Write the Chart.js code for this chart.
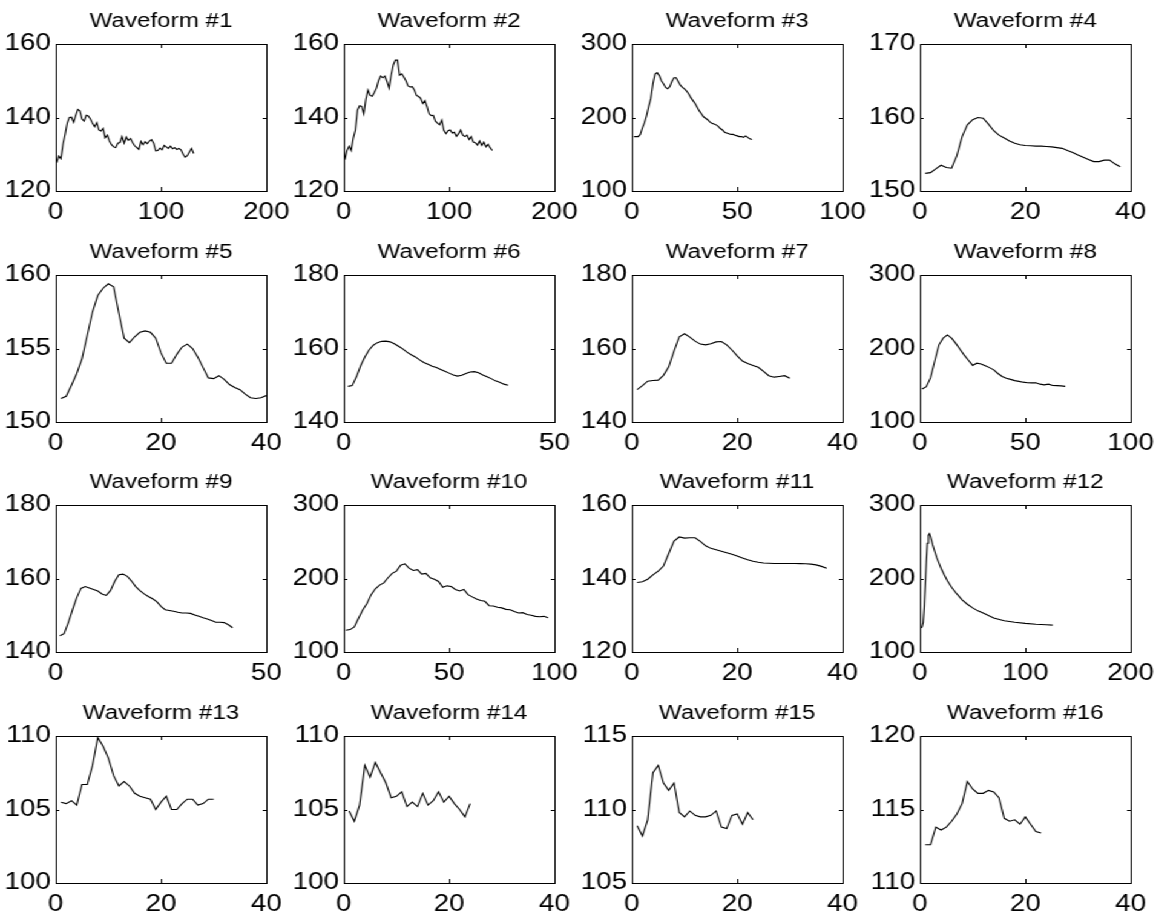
<!DOCTYPE html>
<html lang="en">
<head>
<meta charset="UTF-8" />
<title>Waveforms</title>
<style>
  body { margin: 0; background: #fff; overflow: hidden; }
  /* the original figure is stretched sideways, so the whole grid is too */
  #fig { position: relative; width: 955px; height: 913px; transform: scaleX(1.2105); transform-origin: 0 0; }
  .cell { position: absolute; width: 264px; height: 230px; }
</style>
</head>
<body>
<div id="fig"></div>

<script src="https://cdn.jsdelivr.net/npm/chart.js"></script>
<script>
// axis settings, one entry per subplot
const titles = ["Waveform #1", "Waveform #2", "Waveform #3", "Waveform #4",
                "Waveform #5", "Waveform #6", "Waveform #7", "Waveform #8",
                "Waveform #9", "Waveform #10", "Waveform #11", "Waveform #12",
                "Waveform #13", "Waveform #14", "Waveform #15", "Waveform #16"];
const xMax  = [200, 200, 100, 40,  40, 50, 40, 100,  50, 100, 40, 200,  40, 40, 40, 40];
const xStep = [100, 100, 50, 20,   20, 50, 20, 50,   50, 50, 20, 100,   20, 20, 20, 20];
const yMin  = [120, 120, 100, 150, 150, 140, 140, 100, 140, 100, 120, 100, 100, 100, 105, 110];
const yMax  = [160, 160, 300, 170, 160, 180, 180, 300, 180, 300, 160, 300, 110, 110, 115, 120];
const yStep = [20, 20, 100, 10,    5, 20, 20, 100,   20, 100, 20, 100,   5, 5, 5, 5];

// sample spacing of each record (first sample at x = 1)
const sampleStep = [2, 2, 1, 1,  1, 1, 1, 2,  1, 2, 1, 1,  1, 1, 1, 1];

const wave1 = [127.7, 129.5, 128.8, 132.8, 135.5, 138.5, 140.0, 140.1, 138.7, 140.5, 142.2, 141.8,
  139.6, 139.0, 140.6, 140.4, 139.6, 138.4, 137.5, 138.6, 136.6, 136.3, 137.0, 134.5, 135.2, 133.6,
  132.6, 132.0, 131.8, 133.0, 133.2, 134.8, 133.0, 134.7, 133.8, 134.3, 133.2, 132.3, 131.8, 131.3,
  133.5, 132.6, 133.4, 132.9, 133.6, 134.0, 133.0, 130.9, 131.0, 131.7, 131.2, 132.4, 132.0, 131.6,
  132.2, 131.5, 131.8, 131.3, 131.6, 131.2, 130.0, 129.2, 129.6, 130.6, 131.6, 130.2];
const wave2 = [128.5, 131.0, 132.2, 131.0, 134.4, 136.5, 142.0, 143.2, 143.0, 141.0, 145.0, 147.5,
  146.0, 145.8, 146.8, 148.0, 150.0, 151.3, 150.8, 151.3, 149.8, 148.0, 151.5, 154.3, 155.6, 155.6,
  151.5, 151.9, 151.0, 150.0, 148.6, 148.3, 148.4, 147.5, 146.0, 145.7, 145.2, 143.8, 144.6, 143.0,
  141.0, 140.5, 140.6, 139.0, 138.5, 138.0, 139.3, 136.5, 135.6, 136.4, 136.6, 135.8, 136.0, 134.9,
  135.6, 136.6, 135.2, 134.8, 135.2, 134.0, 134.8, 133.3, 133.1, 132.5, 133.6, 132.4, 133.3, 132.0,
  132.7, 131.8, 131.0];
const wave3 = [174, 174, 174, 177, 186, 193, 203, 215, 226, 246, 259, 261, 257, 250, 246, 241, 239,
  242, 249, 254, 254, 249, 244, 241, 239, 236, 232, 227, 223, 219, 214, 209, 205, 201, 199, 197, 194,
  192, 191, 190, 188, 185, 183, 180, 179, 178, 177, 177, 176, 175, 174, 174, 173, 175, 173, 171, 170];
const wave4 = [152.4, 152.5, 153.0, 153.5, 153.2, 153.1, 154.8, 157.4, 159.0, 159.7, 160.0, 159.9,
  159.1, 158.2, 157.6, 157.2, 156.8, 156.5, 156.3, 156.2, 156.15, 156.1, 156.1, 156.05, 156.0, 155.9,
  155.8, 155.5, 155.25, 154.9, 154.6, 154.3, 154.0, 154.0, 154.2, 154.2, 153.7, 153.3];
const wave5 = [151.6, 151.75, 152.5, 153.3, 154.3, 155.9, 157.5, 158.6, 159.1, 159.4, 159.2, 157.4,
  155.7, 155.4, 155.8, 156.1, 156.2, 156.1, 155.7, 154.7, 154.0, 154.0, 154.6, 155.1, 155.3, 155.0,
  154.4, 153.7, 153.0, 152.95, 153.15, 152.9, 152.55, 152.35, 152.2, 151.9, 151.65, 151.6, 151.65, 151.8];
const wave6 = [149.7, 149.9, 152.3, 155.3, 157.7, 159.6, 160.9, 161.6, 161.95, 162.0, 161.8, 161.3,
  160.6, 159.9, 159.0, 158.3, 157.7, 156.9, 156.2, 155.7, 155.2, 154.8, 154.3, 153.8, 153.3, 152.8,
  152.5, 152.7, 153.2, 153.6, 153.7, 153.4, 152.8, 152.3, 151.8, 151.2, 150.8, 150.3, 150.0];
const wave7 = [148.8, 149.9, 151.1, 151.3, 151.4, 152.7, 155.0, 159.3, 163.2, 164.0, 163.1, 162.0,
  161.2, 161.0, 161.3, 161.8, 161.9, 161.0, 159.6, 158.0, 156.6, 155.9, 155.4, 154.9, 153.8, 152.6,
  152.2, 152.4, 152.6, 151.9];
const wave8 = [145, 148, 160, 183, 205, 214, 218.5, 214, 207, 199, 191, 184, 177, 180, 179, 176.5,
  174, 171, 166, 162, 159.5, 158, 156.3, 155.3, 154.2, 153.3, 153.2, 153.3, 151.5, 150.5, 151.5,
  149.6, 149.5, 149.2, 148.5];
const wave9 = [144.4, 145.0, 148.0, 151.5, 154.8, 157.3, 157.8, 157.4, 157.0, 156.6, 155.8, 155.4,
  156.7, 159.2, 161.0, 161.2, 160.6, 159.3, 157.8, 156.7, 155.8, 155.1, 154.5, 153.7, 152.4, 151.5,
  151.3, 151.1, 150.8, 150.6, 150.6, 150.5, 150.1, 149.7, 149.3, 149.0, 148.6, 148.1, 148.1, 148.0,
  147.4, 146.6];
const wave10 = [129.5, 130.5, 134, 146, 157, 166, 178, 186, 191, 194, 201, 207, 210, 218, 220, 214,
  211, 212, 206, 207, 201, 199, 196, 188, 190, 189, 185, 183, 185, 178, 175, 172, 170, 169, 163,
  162.5, 161, 160, 158, 157.5, 155, 153, 153.5, 151, 150, 148.5, 148, 148.5, 146.5];
const wave11 = [138.9, 139.1, 139.8, 141.0, 142.0, 143.4, 146.8, 150.2, 151.3, 151.0, 151.1, 151.1,
  150.1, 148.9, 148.2, 147.8, 147.4, 147.0, 146.6, 146.1, 145.6, 145.1, 144.7, 144.4, 144.2, 144.15,
  144.1, 144.1, 144.1, 144.1, 144.1, 144.05, 144.0, 143.9, 143.7, 143.3, 142.8];
// record 12 is read at uneven positions
const wave12x = [1, 2, 3, 4, 5, 6, 7, 8, 9, 10, 11, 12, 14, 16, 18, 20, 23, 26, 30, 35, 40, 45, 50,
  55, 60, 70, 80, 90, 100, 110, 120, 126];
const wave12 = [133, 134, 140, 160, 190, 222, 248, 259, 261, 257, 252, 246, 237, 228, 221, 214, 205,
  197, 188, 179, 171, 165, 160, 156, 153, 146.2, 142.4, 140.5, 139, 137.8, 137, 136.6];
const wave13 = [105.5, 105.4, 105.6, 105.3, 106.7, 106.7, 108.0, 109.9, 109.3, 108.5, 107.3, 106.6,
  106.9, 106.6, 106.1, 105.9, 105.8, 105.7, 105.0, 105.5, 105.9, 105.0, 105.0, 105.4, 105.7, 105.7,
  105.3, 105.4, 105.7, 105.7];
const wave14 = [104.9, 104.2, 105.3, 108.0, 107.2, 108.2, 107.5, 106.8, 105.8, 105.9, 106.2, 105.2,
  105.5, 105.2, 106.1, 105.3, 105.6, 106.2, 105.5, 105.9, 105.4, 105.0, 104.5, 105.4];
const wave15 = [108.9, 108.2, 109.3, 112.5, 113.0, 111.8, 111.3, 111.8, 109.8, 109.5, 109.9, 109.6,
  109.5, 109.5, 109.6, 109.9, 108.8, 108.7, 109.6, 109.7, 109.0, 109.8, 109.3];
const wave16 = [112.6, 112.6, 113.8, 113.6, 113.8, 114.2, 114.7, 115.4, 116.9, 116.4, 116.1, 116.1,
  116.3, 116.2, 115.8, 114.4, 114.2, 114.3, 114.0, 114.5, 114.0, 113.5, 113.4];

const waves = [wave1, wave2, wave3, wave4, wave5, wave6, wave7, wave8,
               wave9, wave10, wave11, wave12, wave13, wave14, wave15, wave16];

// where each subplot's canvas sits (before the sideways stretch)
const colLeft = [0.5, 239.3, 477.3, 715.3];
const rowTop = [0, 231, 461, 692];

Chart.defaults.color = '#000';
Chart.defaults.font.family = "'Liberation Sans', Arial, Helvetica, sans-serif";

// MATLAB style box with inward ticks on all four sides
const boxTicks = {
  id: 'boxTicks',
  afterDatasetsDraw(chart) {
    const { ctx, chartArea: a, scales: { x, y } } = chart;
    ctx.save();
    ctx.strokeStyle = '#000';
    ctx.lineWidth = 1;
    ctx.beginPath();
    x.ticks.forEach(t => {
      const px = Math.round(x.getPixelForValue(t.value)) + 0.5;
      ctx.moveTo(px, a.bottom); ctx.lineTo(px, a.bottom - 4);
      ctx.moveTo(px, a.top); ctx.lineTo(px, a.top + 4);
    });
    y.ticks.forEach(t => {
      const py = Math.round(y.getPixelForValue(t.value)) + 0.5;
      ctx.moveTo(a.left, py); ctx.lineTo(a.left + 3, py);
      ctx.moveTo(a.right, py); ctx.lineTo(a.right - 3, py);
    });
    ctx.stroke();
    ctx.strokeRect(Math.round(a.left) + 0.5, Math.round(a.top) + 0.5,
                   Math.round(a.width), Math.round(a.height));
    ctx.restore();
  }
};

const fig = document.getElementById('fig');

waves.forEach((vals, i) => {
  const div = document.createElement('div');
  div.className = 'cell';
  div.style.left = colLeft[i % 4] + 'px';
  div.style.top = rowTop[Math.floor(i / 4)] + 'px';
  const canvas = document.createElement('canvas');
  canvas.width = 264;
  canvas.height = 230;
  div.appendChild(canvas);
  fig.appendChild(div);

  const pts = vals.map((v, k) => ({
    x: i === 11 ? wave12x[k] : 1 + k * sampleStep[i],
    y: v
  }));

  new Chart(canvas, {
    type: 'line',
    data: {
      datasets: [{
        data: pts,
        borderColor: '#000',
        borderWidth: 1.1,
        pointRadius: 0,
        tension: 0,
        fill: false
      }]
    },
    options: {
      responsive: false,
      animation: false,
      events: [],
      layout: { padding: 0 },
      plugins: {
        legend: { display: false },
        tooltip: { enabled: false },
        title: {
          display: true,
          text: titles[i],
          font: { size: 20, weight: 'normal' },
          padding: { top: 9, bottom: 11 }
        }
      },
      scales: {
        x: {
          type: 'linear',
          min: 0,
          max: xMax[i],
          grid: { display: false, drawTicks: false },
          border: { display: false },
          ticks: { stepSize: xStep[i], padding: 8, font: { size: 23 }, maxRotation: 0 },
          afterFit: s => { s.height = 39; }
        },
        y: {
          min: yMin[i],
          max: yMax[i],
          grid: { display: false, drawTicks: false },
          border: { display: false },
          ticks: { stepSize: yStep[i], padding: 4, font: { size: 23 } },
          afterFit: s => { s.width = 45; }
        },
        // empty axis on the right keeps the title centred over the box
        yRight: {
          position: 'right',
          display: true,
          min: yMin[i],
          max: yMax[i],
          grid: { display: false, drawTicks: false },
          border: { display: false },
          ticks: { display: false },
          afterFit: s => { s.width = 45; }
        }
      }
    },
    plugins: [boxTicks]
  });
});
</script>
</body>
</html>
